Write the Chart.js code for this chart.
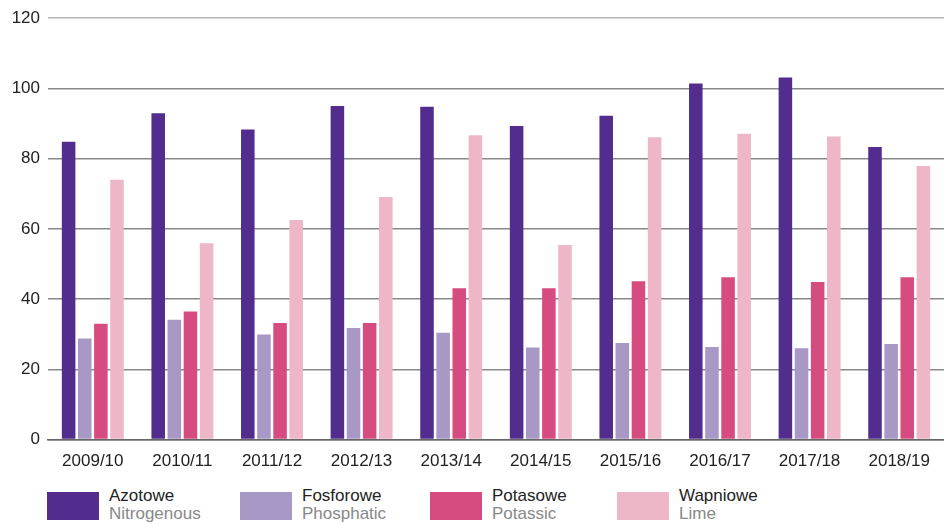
<!DOCTYPE html>
<html>
<head>
<meta charset="utf-8">
<script src="https://cdn.jsdelivr.net/npm/chart.js@4"></script>
<style>
  body { margin: 0; background: #fff; font-family: "Liberation Sans", Arial, sans-serif; }
  #wrap { position: relative; width: 944px; height: 476px; }
  #legend { position: absolute; top: 487px; left: 0; width: 944px; height: 37px; }
  .item { position: absolute; top: 0; display: flex; }
  .box { width: 52px; height: 28px; margin-top: 5px; }
  .lab { margin-left: 10px; font-size: 17px; line-height: 18px; color: #222; }
  .lab span { display: block; color: #888; }
</style>
</head>
<body>
<div id="wrap"><canvas id="chart"></canvas></div>
<div id="legend"></div>
<script>
// --------------------------
// データ
// --------------------------
const seasons = ['2009/10', '2010/11', '2011/12', '2012/13', '2013/14', '2014/15', '2015/16', '2016/17', '2017/18', '2018/19'];
const azotowe    = [84.8, 92.9, 88.3, 95.0, 94.8, 89.3, 92.2, 101.4, 103.1, 83.3];
const fosforowe  = [28.8, 34.1, 29.9, 31.8, 30.4, 26.2, 27.5, 26.4, 26.0, 27.2];
const potasowe   = [33.0, 36.5, 33.2, 33.2, 43.1, 43.1, 45.1, 46.2, 44.9, 46.2];
const wapniowe   = [74.0, 55.9, 62.5, 69.1, 86.7, 55.4, 86.1, 87.1, 86.3, 77.9];
const yTicks = [0, 20, 40, 60, 80, 100, 120];

const series = [
  { pl: 'Azotowe',   en: 'Nitrogenous', data: azotowe,   color: '#532d8e', left: 47 },
  { pl: 'Fosforowe', en: 'Phosphatic',  data: fosforowe, color: '#a898c6', left: 240 },
  { pl: 'Potasowe',  en: 'Potassic',    data: potasowe,  color: '#d64c80', left: 430 },
  { pl: 'Wapniowe',  en: 'Lime',        data: wapniowe,  color: '#edb7c8', left: 617 }
];

// legenda (HTML)
const legend = document.getElementById('legend');
series.forEach(s => {
  const div = document.createElement('div');
  div.className = 'item';
  div.style.left = s.left + 'px';
  div.innerHTML = `<div class="box" style="background:${s.color}"></div>` +
    `<div class="lab">${s.pl}<span>${s.en}</span></div>`;
  legend.appendChild(div);
});

const ctx = document.getElementById('chart').getContext('2d');
new Chart(ctx, {
  type: 'bar',
  data: {
    labels: seasons,
    datasets: series.map(s => ({
      label: s.pl,
      data: s.data,
      backgroundColor: s.color,
      borderWidth: 0,
      barPercentage: 0.84,
      categoryPercentage: 0.72
    }))
  },
  options: {
    responsive: true,
    maintainAspectRatio: false,
    animation: false,
    layout: { padding: { top: 9, right: 0, bottom: 0, left: 0 } },
    plugins: { legend: { display: false }, tooltip: { enabled: false } },
    scales: {
      x: {
        grid: { display: false },
        border: { display: true, color: '#666', width: 1.5 },
        ticks: { color: '#222', font: { family: 'Liberation Sans', size: 17 }, padding: 4, maxRotation: 0 }
      },
      y: {
        min: 0,
        max: 120,
        afterBuildTicks: axis => { axis.ticks = yTicks.map(v => ({ value: v })); },
        afterFit: axis => { axis.width = 48; },
        grid: {
          color: c => c.tick && c.tick.value === 120 ? '#b4b4b4' : '#888',
          lineWidth: 1.5,
          drawTicks: false
        },
        border: { display: false },
        ticks: { color: '#222', font: { family: 'Liberation Sans', size: 17 }, padding: 8 }
      }
    }
  }
});
</script>
</body>
</html>
